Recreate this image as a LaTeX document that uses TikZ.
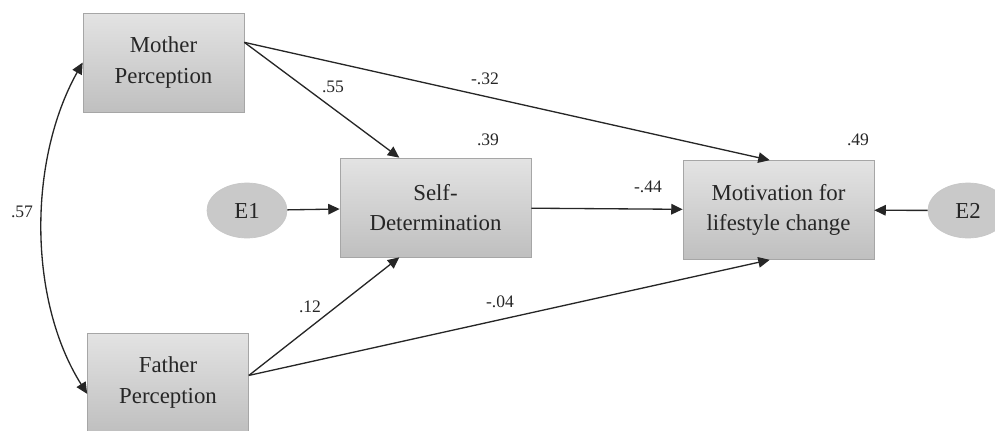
\documentclass[tikz,border=0pt]{standalone}
\usepackage{fontspec}
\setmainfont{Liberation Serif}
\usetikzlibrary{arrows.meta,shapes.geometric}
\begin{document}
\begin{tikzpicture}[x=0.02cm, y=-0.02cm,
  varbox/.style={draw=black!35, top color=black!11, bottom color=black!25, minimum width=3.22cm, minimum height=1.98cm, align=center, inner sep=2pt, font=\fontsize{13}{17.5}\selectfont, text=black!85},
  widebox/.style={varbox, minimum width=3.82cm},
  errnode/.style={ellipse, draw=black!22, fill=black!21, minimum width=1.6cm, minimum height=1.1cm, inner sep=0pt, font=\fontsize{13}{15}\selectfont, text=black!85},
  coef/.style={font=\fontsize{10}{12}\selectfont, text=black!85, inner sep=1pt},
  path/.style={draw=black!85, line width=0.75pt, -{Triangle[length=6.5pt,width=6pt]}}]
\useasboundingbox (0,0) rectangle (995,430);
% variables
\node[varbox] (mother) at (163.5,62.5) {Mother\\Perception};
\node[varbox] (father) at (168,382.5) {Father\\Perception};
\node[widebox] (selfdet) at (435.5,207.5) {Self-\\Determination};
\node[widebox] (motiv) at (778.5,210) {Motivation for\\lifestyle change};
\node[errnode] (e1) at (247,210.5) {E1};
\node[errnode] (e2) at (968,210.5) {E2};
% paths
\draw[path] (mother.14) -- (selfdet.126);
\draw[path] (mother.14) -- (motiv.100);
\draw[path] (father.5) -- (selfdet.234);
\draw[path] (father.5) -- (motiv.260);
\draw[path] (e1) -- (selfdet);
\draw[path] (selfdet) -- (motiv);
\draw[path] (e2) -- (motiv);
\draw[path, {Triangle[length=6.5pt,width=6pt]}-{Triangle[length=6.5pt,width=6pt]}] (mother.west) .. controls (28,160) and (28,300) .. (father.188);
% coefficients
\node[coef] (r57) at (22,212) {.57};
\node[coef] (c55) at (333,87) {.55};
\node[coef] (c32) at (485,79) {-.32};
\node[coef] (c12) at (310,307) {.12};
\node[coef] (c04) at (500,302) {-.04};
\node[coef] (c44) at (648,187) {-.44};
\node[coef] (sq39) at (488,140) {.39};
\node[coef] (sq49) at (858,140) {.49};
\end{tikzpicture}
\end{document}
